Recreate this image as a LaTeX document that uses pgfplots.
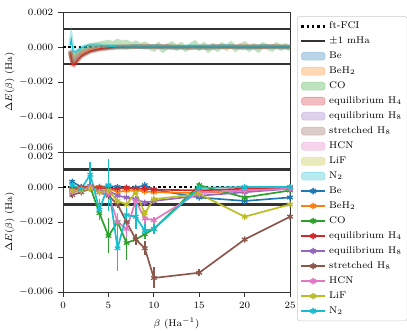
\documentclass[border=0pt]{standalone}
\usepackage{pgfplots}
\pgfplotsset{compat=1.18}

\definecolor{C0}{HTML}{1F77B4}
\definecolor{C1}{HTML}{FF7F0E}
\definecolor{C2}{HTML}{2CA02C}
\definecolor{C3}{HTML}{D62728}
\definecolor{C4}{HTML}{9467BD}
\definecolor{C5}{HTML}{8C564B}
\definecolor{C6}{HTML}{E377C2}
\definecolor{C8}{HTML}{BCBD22}
\definecolor{C9}{HTML}{17BECF}

\pgfplotsset{
  panel/.style={
    width=163.4pt, height=100.8pt, scale only axis,
    xmin=0, xmax=25, ymin=-0.006, ymax=0.002,
    axis line style={black!80, line width=0.6pt},
    tick align=outside, xtick pos=bottom, ytick pos=left,
    major tick length=3.5pt,
    tick style={black!80, line width=0.6pt},
    tick label style={font=\scriptsize},
    label style={font=\scriptsize},
    scaled y ticks=false,
    yticklabel style={/pgf/number format/fixed,
      /pgf/number format/fixed zerofill,
      /pgf/number format/precision=3},
    ylabel={$\Delta E(\beta)$ (Ha)},
    y label style={at={(axis description cs:-0.235,0.5)}, anchor=center},
    clip=true,
  },
  band/.style={#1, line width=3pt, opacity=0.3, forget plot},
  mid/.style={#1, line width=0.7pt, forget plot},
  pt/.style={#1, line width=1.2pt, mark=asterisk, mark size=2.3pt,
    mark options={line width=0.9pt},
    error bars/.cd, y dir=both, y explicit,
    error bar style={line width=1.2pt}, error mark=none},
}

\begin{document}
\begin{tikzpicture}
% ---------------- top panel: continuous curves ----------------
\begin{axis}[panel, name=top,
  xtick=\empty,
  ytick={-0.004,-0.002,0,0.002},
  extra y ticks={-0.006},
  extra y tick style={yticklabel style={yshift=3pt}},
  legend cell align=left,
  legend style={font=\scriptsize, draw=black!20, rounded corners=2pt,
    at={(1.031,0.971)}, anchor=north west, row sep=0.45pt, inner sep=2pt},
  ]
\addplot[black, line width=1.8pt, dash pattern=on 1.8pt off 2pt] coordinates {(0,0)(25,0)};
\addplot[black!80, line width=1.5pt] coordinates {(0,0.001)(25,0.001)};
\addplot[black!80, line width=1.5pt, forget plot] coordinates {(0,-0.001)(25,-0.001)};

% bands
\addplot[band=C0] coordinates {(0.8,-0.0002)(1.0,-0.0006)(1.2,-0.0007)(1.5,-0.0005)(2,-0.0003)(2.5,-0.0002)(3,-0.0001)(4,-0.00005)(5,0)(8,0.00003)(12,-0.00003)(16,0.00003)(20,-0.00002)(25,0)};
\addplot[band=C1] coordinates {(0.8,-0.0003)(1.0,-0.0008)(1.2,-0.0009)(1.5,-0.00075)(2,-0.00048)(2.5,-0.00032)(3,-0.0002)(4,-0.0001)(5,-0.00005)(6,0)(10,0.00002)(15,-0.00003)(20,0.00002)(25,0)};
\addplot[band=C2, line width=4pt] coordinates {(0.8,-0.0003)(1.0,-0.0006)(1.2,-0.00065)(1.5,-0.00045)(2,-0.0002)(2.5,-0.00005)(3,0.00005)(3.5,0.0001)(4,0.00015)(4.5,0.0002)(5,0.00025)(5.5,0.00015)(6,0.0003)(6.5,0.0002)(7,0.00025)(7.5,0.0001)(8,0.0002)(8.5,0.00005)(9,0.00015)(9.5,0)(10,-0.0001)(10.5,0.0001)(11,-0.00015)(11.5,0.00005)(12,0.00015)(12.5,-0.00005)(13,0.0001)(13.5,-0.0001)(14,0.00005)(14.5,0.0002)(15,-0.00005)(15.5,0.0001)(16,-0.00015)(16.5,0.00005)(17,-0.0001)(17.5,0.0001)(18,-0.00005)(18.5,0.00015)(19,-0.0001)(19.5,0.00005)(20,0.00015)(20.5,-0.0001)(21,0.00005)(21.5,-0.00015)(22,0.0001)(22.5,0)(23,-0.0001)(23.5,0.0001)(24,-0.00005)(24.5,0.00005)(25,-0.0001)};
\addplot[band=C3] coordinates {(0.8,-0.0003)(1.0,-0.001)(1.2,-0.00105)(1.5,-0.00085)(2,-0.0005)(2.5,-0.00035)(3,-0.00022)(4,-0.0001)(5,-0.00005)(6,0)(10,0.00002)(15,-0.00002)(20,0.00002)(25,0)};
\addplot[band=C4] coordinates {(0.8,-0.0002)(1.0,-0.0007)(1.2,-0.0008)(1.5,-0.0006)(2,-0.00035)(2.5,-0.0002)(3,-0.0001)(4,-0.00005)(5,0)(9,0.00003)(14,-0.00003)(19,0.00003)(25,0)};
\addplot[band=C5] coordinates {(0.8,-0.0003)(1.0,-0.0008)(1.2,-0.00095)(1.5,-0.0008)(2,-0.00055)(2.5,-0.0004)(3,-0.00028)(4,-0.00015)(5,-0.00008)(6,-0.00003)(8,0)(11,0.00005)(14,-0.00004)(17,0.00005)(20,-0.00004)(23,0.00004)(25,0)};
\addplot[band=C6] coordinates {(0.8,-0.0002)(1.0,-0.0006)(1.2,-0.00075)(1.5,-0.00055)(2,-0.0003)(2.5,-0.0002)(3,-0.0001)(4,-0.00005)(5,0)(10,0.00003)(15,-0.00003)(20,0.00003)(25,0)};
\addplot[band=C8] coordinates {(0.8,-0.0002)(1.0,-0.0005)(1.2,-0.0006)(1.5,-0.00045)(2,-0.00025)(2.5,-0.00015)(3,-0.00008)(4,-0.00003)(5,0)(10,0.00003)(15,-0.00003)(20,0.00003)(25,0)};
\addplot[band=C9] coordinates {(0.8,0.0001)(0.9,0.00045)(1.0,0.0001)(1.1,-0.0002)(1.3,-0.0003)(1.6,-0.0002)(2,-0.00005)(2.5,0.00005)(3,0.0001)(4,0.0001)(5,0.00005)(6,0)(7,-0.00005)(8,0.00004)(9,-0.00004)(10,0.00005)(12,-0.00005)(14,0.00004)(16,-0.00005)(18,0.00005)(20,-0.00004)(22,0.00005)(24,-0.00004)(25,0)};

% centre lines
\addplot[mid=C1] coordinates {(0.8,-0.0003)(1.0,-0.0008)(1.2,-0.0009)(1.5,-0.00075)(2,-0.00048)(2.5,-0.00032)(3,-0.0002)(4,-0.0001)(5,-0.00005)(6,0)(25,0)};
\addplot[mid=C3] coordinates {(0.8,-0.0003)(1.0,-0.001)(1.2,-0.00105)(1.5,-0.00085)(2,-0.0005)(2.5,-0.00035)(3,-0.00022)(4,-0.0001)(5,-0.00005)(6,0)(25,0)};
\addplot[mid=C5] coordinates {(0.8,-0.0003)(1.0,-0.0008)(1.2,-0.00095)(1.5,-0.0008)(2,-0.00055)(2.5,-0.0004)(3,-0.00028)(4,-0.00015)(5,-0.00008)(6,-0.00003)(8,0)(25,0)};
\addplot[mid=C9] coordinates {(0.8,0.0001)(0.9,0.00045)(1.0,0.0001)(1.1,-0.0002)(1.3,-0.0003)(1.6,-0.0002)(2,-0.00005)(2.5,0.00005)(3,0.0001)(4,0.0001)(5,0.00005)(6,0)(25,0)};

\addlegendentry{ft-FCI}
\addlegendentry{$\pm 1$ mHa}
\addlegendimage{area legend, draw=C0, fill=C0, opacity=0.3}\addlegendentry{Be}
\addlegendimage{area legend, draw=C1, fill=C1, opacity=0.3}\addlegendentry{BeH$_2$}
\addlegendimage{area legend, draw=C2, fill=C2, opacity=0.3}\addlegendentry{CO}
\addlegendimage{area legend, draw=C3, fill=C3, opacity=0.3}\addlegendentry{equilibrium H$_4$}
\addlegendimage{area legend, draw=C4, fill=C4, opacity=0.3}\addlegendentry{equilibrium H$_8$}
\addlegendimage{area legend, draw=C5, fill=C5, opacity=0.3}\addlegendentry{stretched H$_8$}
\addlegendimage{area legend, draw=C6, fill=C6, opacity=0.3}\addlegendentry{HCN}
\addlegendimage{area legend, draw=C8, fill=C8, opacity=0.3}\addlegendentry{LiF}
\addlegendimage{area legend, draw=C9, fill=C9, opacity=0.3}\addlegendentry{N$_2$}
\addlegendimage{C0, line width=1.2pt, mark=asterisk, mark size=2.3pt}\addlegendentry{Be}
\addlegendimage{C1, line width=1.2pt, mark=asterisk, mark size=2.3pt}\addlegendentry{BeH$_2$}
\addlegendimage{C2, line width=1.2pt, mark=asterisk, mark size=2.3pt}\addlegendentry{CO}
\addlegendimage{C3, line width=1.2pt, mark=asterisk, mark size=2.3pt}\addlegendentry{equilibrium H$_4$}
\addlegendimage{C4, line width=1.2pt, mark=asterisk, mark size=2.3pt}\addlegendentry{equilibrium H$_8$}
\addlegendimage{C5, line width=1.2pt, mark=asterisk, mark size=2.3pt}\addlegendentry{stretched H$_8$}
\addlegendimage{C6, line width=1.2pt, mark=asterisk, mark size=2.3pt}\addlegendentry{HCN}
\addlegendimage{C8, line width=1.2pt, mark=asterisk, mark size=2.3pt}\addlegendentry{LiF}
\addlegendimage{C9, line width=1.2pt, mark=asterisk, mark size=2.3pt}\addlegendentry{N$_2$}
\end{axis}

% ---------------- bottom panel: sampled points ----------------
\begin{axis}[panel, name=bot,
  at={(top.south west)}, anchor=north west,
  xtick={0,5,...,25},
  xlabel={$\beta$ (Ha$^{-1}$)},
  ytick={-0.006,-0.004,-0.002,0},
  extra y ticks={0.002},
  extra y tick style={yticklabel style={yshift=-3pt}},
  ]
\addplot[black!80, line width=1.5pt] coordinates {(0,0.001)(25,0.001)};
\addplot[black!80, line width=1.5pt] coordinates {(0,-0.001)(25,-0.001)};
\addplot[black, line width=1.8pt, dash pattern=on 1.8pt off 2pt] coordinates {(0,0)(25,0)};

\addplot[pt=C0] coordinates {(1,0.0003)+-(0,0.00012)(2,0)+-(0,0.00005)(3,0.00005)+-(0,0.00005)(4,0)+-(0,0.00005)(5,0.00005)+-(0,0.00008)(6,0)+-(0,0.00005)(7,-0.00005)+-(0,0.00005)(8,-0.00005)+-(0,0.00005)(9,0.0001)+-(0,0.00008)(10,-0.00015)+-(0,0.00005)(15,-0.0006)+-(0,0.0001)(20,-0.0008)+-(0,0.0001)(25,-0.0006)+-(0,0.00005)};
\addplot[pt=C1] coordinates {(1,-0.0001)+-(0,0.00005)(2,-0.00005)+-(0,0.00005)(3,0)+-(0,0.00005)(4,0)+-(0,0.00005)(5,-0.00005)+-(0,0.00005)(6,-0.0003)+-(0,0.0001)(7,-0.0002)+-(0,0.0001)(8,-0.0002)+-(0,0.00005)(9,-0.00025)+-(0,0.00005)(10,-0.0003)+-(0,0.00005)(15,-0.00035)+-(0,0.00005)(20,-0.0002)+-(0,0.00005)(25,-0.0001)+-(0,0.00005)};
\addplot[pt=C2] coordinates {(1,-0.0001)+-(0,0.00005)(2,-0.00015)+-(0,0.00005)(3,0)+-(0,0.0001)(4,-0.0015)+-(0,0.0003)(5,-0.0028)+-(0,0.001)(6,-0.002)+-(0,0.0005)(7,-0.0032)+-(0,0.001)(8,-0.003)+-(0,0.0003)(9,-0.0027)+-(0,0.0003)(10,-0.0024)+-(0,0.0002)(15,0.0001)+-(0,0.0001)(20,-0.0006)+-(0,0.0001)(25,-0.0002)+-(0,0.00005)};
\addplot[pt=C3] coordinates {(1,-0.00005)+-(0,0.00005)(2,-0.00005)+-(0,0.00005)(3,0)+-(0,0.00005)(4,-0.00005)+-(0,0.00005)(5,-0.0001)+-(0,0.00005)(6,-0.0001)+-(0,0.00005)(7,-0.00005)+-(0,0.00005)(8,-0.0001)+-(0,0.00005)(9,-0.0001)+-(0,0.00005)(10,-0.00015)+-(0,0.00005)(15,-0.0002)+-(0,0.00005)(20,-0.0001)+-(0,0.00005)(25,-0.00005)+-(0,0.00005)};
\addplot[pt=C4] coordinates {(1,-0.0002)+-(0,0.00005)(2,-0.00015)+-(0,0.00005)(3,-0.00005)+-(0,0.00005)(4,-0.0002)+-(0,0.00005)(5,-0.0002)+-(0,0.00005)(6,-0.0005)+-(0,0.0001)(7,-0.0006)+-(0,0.0001)(8,-0.0007)+-(0,0.0001)(9,-0.0009)+-(0,0.0001)(10,-0.0008)+-(0,0.0001)(15,-0.0005)+-(0,0.00005)(20,-0.0003)+-(0,0.00005)(25,-0.0001)+-(0,0.00005)};
\addplot[pt=C5] coordinates {(1,-0.00045)+-(0,0.0001)(2,-0.0003)+-(0,0.00005)(3,-0.0001)+-(0,0.00005)(4,-0.0003)+-(0,0.0001)(5,-0.0005)+-(0,0.0001)(6,-0.001)+-(0,0.0002)(7,-0.002)+-(0,0.0003)(8,-0.003)+-(0,0.0003)(9,-0.0035)+-(0,0.0004)(10,-0.0052)+-(0,0.0006)(15,-0.0049)+-(0,0.0002)(20,-0.003)+-(0,0.0001)(25,-0.0017)+-(0,0.0001)};
\addplot[pt=C6] coordinates {(1,-0.0003)+-(0,0.00005)(2,-0.0002)+-(0,0.00005)(3,0)+-(0,0.0001)(4,-0.0003)+-(0,0.0001)(5,-0.0004)+-(0,0.0001)(6,-0.002)+-(0,0.0005)(7,-0.0024)+-(0,0.0005)(8,-0.0008)+-(0,0.0002)(9,-0.0018)+-(0,0.0003)(10,-0.0019)+-(0,0.0002)(15,-0.0003)+-(0,0.00005)(20,-0.0002)+-(0,0.00005)(25,-0.0001)+-(0,0.00005)};
\addplot[pt=C8] coordinates {(1,-0.0002)+-(0,0.00005)(2,-0.0002)+-(0,0.00005)(3,-0.0001)+-(0,0.00005)(4,-0.0003)+-(0,0.0001)(5,-0.0002)+-(0,0.0001)(6,-0.0008)+-(0,0.0002)(7,-0.001)+-(0,0.0002)(8,-0.0003)+-(0,0.0001)(9,-0.0015)+-(0,0.0002)(10,-0.0007)+-(0,0.0001)(15,-0.0004)+-(0,0.00005)(20,-0.0017)+-(0,0.0001)(25,-0.001)+-(0,0.00005)};
\addplot[pt=C9] coordinates {(1,0.0001)+-(0,0.00005)(2,-0.0001)+-(0,0.00005)(3,0.0007)+-(0,0.0007)(4,-0.0013)+-(0,0.0006)(5,0.0001)+-(0,0.0015)(6,-0.0035)+-(0,0.0013)(7,-0.0016)+-(0,0.0006)(8,-0.0017)+-(0,0.0007)(9,-0.0025)+-(0,0.0004)(10,-0.0024)+-(0,0.0003)(15,-0.00005)+-(0,0.00005)(20,0)+-(0,0.00005)(25,0)+-(0,0.00005)};
\end{axis}

\pgfresetboundingbox
\path[use as bounding box] ([shift={(-45.4pt,8.6pt)}]top.north west) rectangle ([shift={(84.2pt,-29.5pt)}]bot.south east);
\end{tikzpicture}
\end{document}
